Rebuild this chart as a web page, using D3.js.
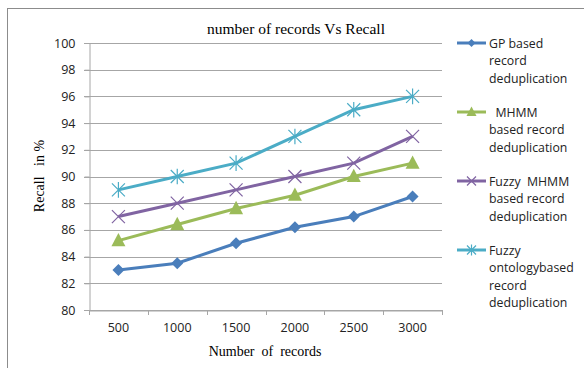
<!DOCTYPE html>
<html><head><meta charset="utf-8">
<script src="https://cdn.jsdelivr.net/npm/d3@7"></script>
<style>body{margin:0;background:#fff}svg{display:block}</style>
</head><body>
<script>
const categories = ["500","1000","1500","2000","2500","3000"];
const gpValues = [83, 83.5, 85, 86.2, 87, 88.5];
const mhmmValues = [85.2, 86.4, 87.6, 88.6, 90, 91];
const fuzzyMhmmValues = [87, 88, 89, 90, 91, 93];
const fuzzyOntologyValues = [89, 90, 91, 93, 95, 96];
const yTicks = [80, 82, 84, 86, 88, 90, 92, 94, 96, 98, 100];
const seriesNames = [
  ["GP based", "record", "deduplication"],
  ["  MHMM", "based record", "deduplication"],
  ["Fuzzy  MHMM", "based record", "deduplication"],
  ["Fuzzy", "ontologybased", "record", "deduplication"]
];
const series = [
  {name: seriesNames[0], values: gpValues, color: "#4a7ebb", marker: "diamond"},
  {name: seriesNames[1], values: mhmmValues, color: "#9bbb59", marker: "triangle"},
  {name: seriesNames[2], values: fuzzyMhmmValues, color: "#8064a2", marker: "x"},
  {name: seriesNames[3], values: fuzzyOntologyValues, color: "#4bacc6", marker: "star"}
];

const W = 584, H = 368;
const svg = d3.select("body").append("svg").attr("width", W).attr("height", H);
svg.append("rect").attr("x", 7.5).attr("y", 8.5).attr("width", 600).attr("height", 400)
  .attr("fill", "none").attr("stroke", "#8c8c8c");

const pLeft = 89, pRight = 442, pTop = 43, pBottom = 310;
const x = d3.scaleBand().domain(categories).range([pLeft, pRight]);
const y = d3.scaleLinear().domain([80, 100]).range([pBottom, pTop]);
const font = "'Open Sans', sans-serif";

svg.append("g").selectAll("line").data(yTicks).join("line")
  .attr("x1", pLeft - 5).attr("x2", pRight)
  .attr("y1", d => Math.round(y(d)) + 0.5).attr("y2", d => Math.round(y(d)) + 0.5)
  .attr("stroke", "#a6a6a6").attr("stroke-width", 1);

const yAxis = svg.append("g").attr("transform", `translate(${pLeft + 0.5},0)`)
  .call(d3.axisLeft(y).tickValues(yTicks).tickSize(5).tickPadding(9));
yAxis.select(".domain").attr("stroke", "#a6a6a6");
yAxis.selectAll(".tick line").attr("stroke", "#a6a6a6");
yAxis.selectAll("text").attr("font-family", font).attr("font-size", 12.5).attr("fill", "#222");

const xAxis = svg.append("g").attr("transform", `translate(0,${pBottom + 0.5})`)
  .call(d3.axisBottom(x).tickSize(0).tickPadding(13));
xAxis.select(".domain").attr("stroke", "#a6a6a6");
xAxis.selectAll("text").attr("font-family", font).attr("font-size", 12.5).attr("fill", "#222");
const bounds = categories.map(c => x(c)).concat([pRight]);
svg.append("g").selectAll("line").data(bounds).join("line")
  .attr("x1", d => Math.round(d) + 0.5).attr("x2", d => Math.round(d) + 0.5)
  .attr("y1", pBottom).attr("y2", pBottom + 5).attr("stroke", "#a6a6a6");

svg.append("text").attr("x", 296).attr("y", 34).attr("text-anchor", "middle")
  .attr("font-family", "'Liberation Serif', serif").attr("font-size", 15.5)
  .text("number of records Vs Recall");
svg.append("text").attr("x", 265).attr("y", 356).attr("text-anchor", "middle")
  .attr("font-family", "'Liberation Serif', serif").attr("font-size", 14)
  .style("white-space", "pre")
  .text("Number  of  records");
svg.append("text").attr("transform", "translate(44,176) rotate(-90)").attr("text-anchor", "middle")
  .attr("font-family", "'Liberation Serif', serif").attr("font-size", 14)
  .style("white-space", "pre")
  .text("Recall   in %");

function drawMarker(g, type, color, cx, cy, s) {
  if (type === "diamond") {
    g.append("path").attr("d", `M${cx},${cy - s}L${cx + s},${cy}L${cx},${cy + s}L${cx - s},${cy}Z`).attr("fill", color);
  } else if (type === "triangle") {
    g.append("path").attr("d", `M${cx},${cy - s * 1.1}L${cx + s},${cy + s * 0.8}L${cx - s},${cy + s * 0.8}Z`).attr("fill", color);
  } else if (type === "x") {
    g.append("path").attr("d", `M${cx - s},${cy - s}L${cx + s},${cy + s}M${cx - s},${cy + s}L${cx + s},${cy - s}`)
      .attr("stroke", color).attr("stroke-width", 1.2).attr("fill", "none");
  } else {
    g.append("path").attr("d", `M${cx - s},${cy - s}L${cx + s},${cy + s}M${cx - s},${cy + s}L${cx + s},${cy - s}M${cx},${cy - s * 1.2}L${cx},${cy + s * 1.2}`)
      .attr("stroke", color).attr("stroke-width", 1.2).attr("fill", "none");
  }
}

const line = d3.line().x((d, i) => x(categories[i]) + x.bandwidth() / 2).y(d => y(d));
series.forEach(s => {
  const g = svg.append("g");
  g.append("path").attr("d", line(s.values)).attr("fill", "none").attr("stroke", s.color).attr("stroke-width", 3);
  s.values.forEach((v, i) => drawMarker(g, s.marker, s.color, x(categories[i]) + x.bandwidth() / 2, y(v),
    s.marker === "diamond" ? 6 : s.marker === "triangle" ? 7 : 6.5));
});

const legendTops = [43, 112, 181, 250];
series.forEach((s, k) => {
  const g = svg.append("g");
  const ly = legendTops[k];
  g.append("line").attr("x1", 457).attr("x2", 486).attr("y1", ly).attr("y2", ly).attr("stroke", s.color).attr("stroke-width", 3);
  drawMarker(g, s.marker, s.color, 471.5, ly, s.marker === "diamond" ? 4 : s.marker === "triangle" ? 5 : 4.5);
  s.name.forEach((t, j) => {
    g.append("text").attr("x", 489).attr("y", ly + j * 17.5 + 4.5)
      .attr("font-family", font).attr("font-size", 12.3).attr("fill", "#222")
      .style("white-space", "pre").text(t);
  });
});
</script>
</body></html>
